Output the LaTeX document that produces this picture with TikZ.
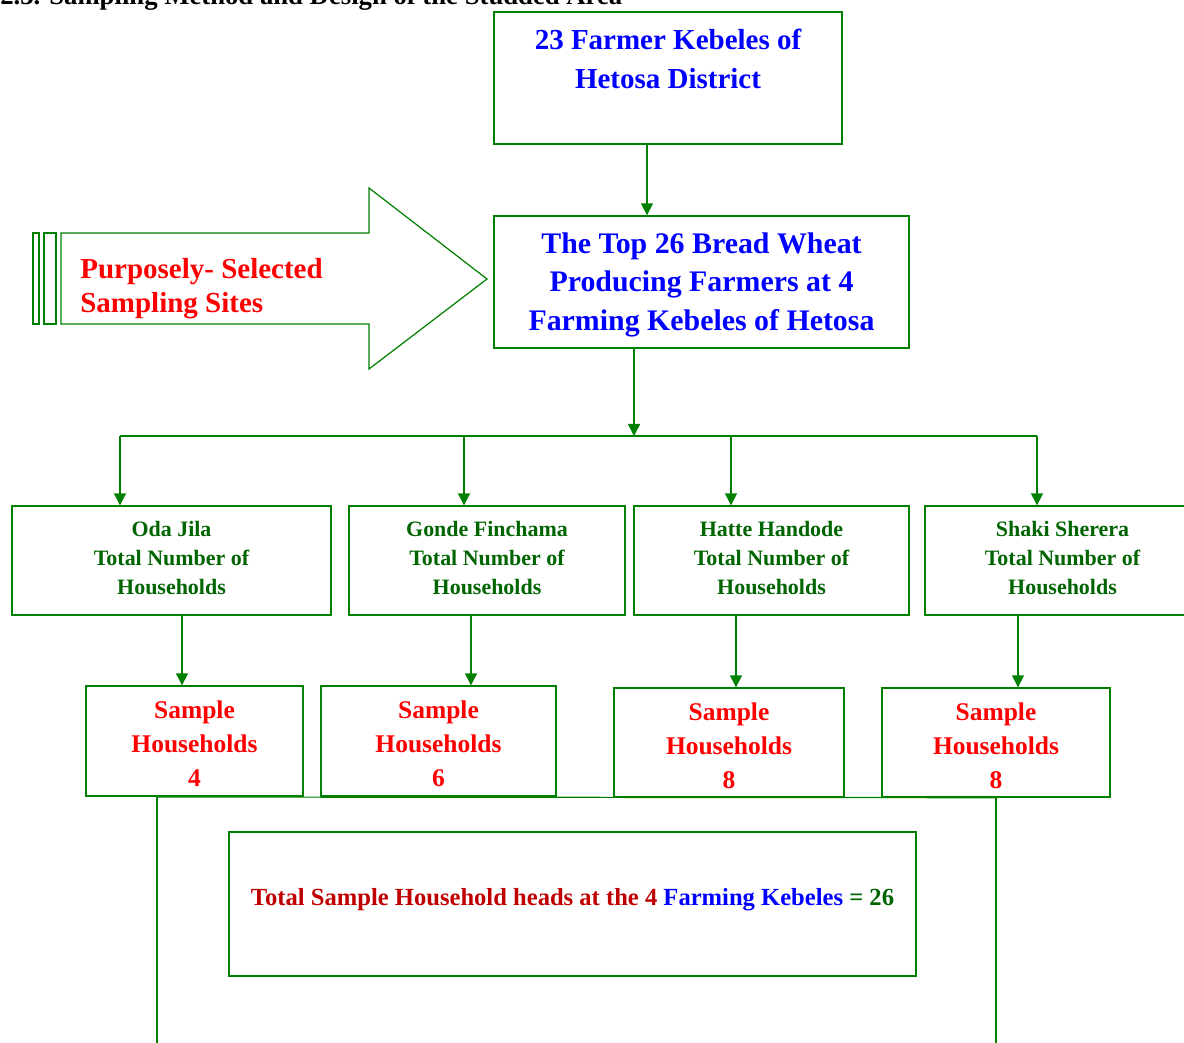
\documentclass[tikz,border=0pt]{standalone}
\usepackage{fontspec}
\setmainfont{Liberation Serif}
\usetikzlibrary{arrows.meta}
\definecolor{lineGreen}{RGB}{0,128,0}
\definecolor{txtGreen}{RGB}{0,100,0}
\definecolor{txtRed}{RGB}{255,0,0}
\definecolor{darkRed}{RGB}{192,0,0}
\definecolor{txtBlue}{RGB}{0,0,255}
\tikzset{
  box/.style={draw=lineGreen,line width=0.8pt,rectangle,align=center,inner sep=0pt,font=\bfseries},
  arr/.style={draw=lineGreen,line width=0.8pt,-{Triangle[length=0.24cm,width=0.24cm]}},
  wire/.style={draw=lineGreen,line width=0.7pt},
  kebele/.style={box,minimum height=2.18cm,text=txtGreen,font=\bfseries\fontsize{12.5}{16.4}\selectfont},
  sample/.style={box,text=txtRed,font=\bfseries\fontsize{14.5}{19.3}\selectfont},
}
% struts to nudge text inside the fixed boxes
\newcommand{\upstrut}[1]{\rule{0pt}{#1}}
\newcommand{\downstrut}[1]{\rule[-#1]{0pt}{0pt}}

\begin{document}
\begin{tikzpicture}[x=0.02cm,y=-0.02cm]
\useasboundingbox (0,0) rectangle (1184,1043);
% heading, cut off by the page
\node[anchor=base west,inner sep=0pt,font=\bfseries\fontsize{15.2}{17}\selectfont] (head) at (0,5) {2.3. Sampling Method and Design of the Studded Area};

% district and selected farmers
\node[box,minimum width=6.96cm,minimum height=2.64cm] (top) at (668,78) {};
\node[align=center,text=txtBlue,font=\bfseries\fontsize{16.5}{22}\selectfont] (toptxt) at (668,59) {23 Farmer Kebeles of\\Hetosa District};
\node[box,minimum width=8.3cm,minimum height=2.64cm,text=txtBlue,font=\bfseries\fontsize{17}{22}\selectfont] (farmers) at (701.5,282) {\upstrut{0.53cm}The Top 26 Bread Wheat\\Producing Farmers at 4\\Farming Kebeles of Hetosa};

% big arrow
\draw[wire] (61,233) -- (369,233) -- (369,188) -- (487,279) -- (369,369) -- (369,324) -- (61,324) -- cycle;
\draw[wire] (33,233) rectangle (39,324);
\draw[wire] (44,233) rectangle (56,324);
\node[anchor=west,align=left,inner sep=0pt,text=txtRed,font=\bfseries\fontsize{16.5}{19.3}\selectfont] (sites) at (80,289) {Purposely- Selected\\Sampling Sites};

% kebeles
\node[kebele,minimum width=6.38cm] (k1) at (171.5,560.5) {Oda Jila\\Total Number of\\Households\downstrut{0.1cm}};
\node[kebele,minimum width=5.52cm] (k2) at (487,560.5) {Gonde Finchama\\Total Number of\\Households\downstrut{0.1cm}};
\node[kebele,minimum width=5.5cm] (k3) at (771.5,560.5) {Hatte Handode\\Total Number of\\Households\downstrut{0.1cm}};
\node[kebele,minimum width=5.5cm] (k4) at (1062.5,560.5) {Shaki Sherera\\Total Number of\\Households\downstrut{0.1cm}};

% samples
\node[sample,minimum width=4.34cm,minimum height=2.2cm] (s1) at (194.5,741) {\upstrut{0.47cm}Sample\\Households\\4};
\node[sample,minimum width=4.7cm,minimum height=2.2cm] (s2) at (438.5,741) {\upstrut{0.47cm}Sample\\Households\\6};
\node[sample,minimum width=4.6cm,minimum height=2.18cm] (s3) at (729,742.5) {\upstrut{0.47cm}Sample\\Households\\8};
\node[sample,minimum width=4.56cm,minimum height=2.18cm] (s4) at (996,742.5) {\upstrut{0.47cm}Sample\\Households\\8};

% total
\node[box,minimum width=13.74cm,minimum height=2.88cm,font=\bfseries\fontsize{14}{16}\selectfont] (total) at (572.5,904)
  {\textcolor{darkRed}{Total Sample Household heads at the 4} \textcolor{txtBlue}{Farming Kebeles} \textcolor{txtGreen}{= 26}\downstrut{0.3cm}};

% connectors
\coordinate (bus) at (634,436);
\coordinate (jl) at (157,797);
\coordinate (bl) at (157,1043);
\coordinate (br) at (996,1043);
\draw[arr] (top.south -| 647,0) -- (farmers.north -| 647,0);
\draw[arr] (farmers.south -| bus) -- (bus);
\draw[wire] (bus -| 120,0) -- (bus -| 1037,0);
\foreach \k/\x in {k1/120,k2/464,k3/731,k4/1037}
  \draw[arr] (bus -| \x,0) -- (\k.north -| \x,0);
\foreach \k/\s/\x in {k1/s1/182,k2/s2/471,k3/s3/736,k4/s4/1018}
  \draw[arr] (\k.south -| \x,0) -- (\s.north -| \x,0);
\draw[wire] (jl) -- (s4.south);
\draw[wire] (jl) -- (bl);
\draw[wire] (s4.south) -- (br);
\end{tikzpicture}
\end{document}
